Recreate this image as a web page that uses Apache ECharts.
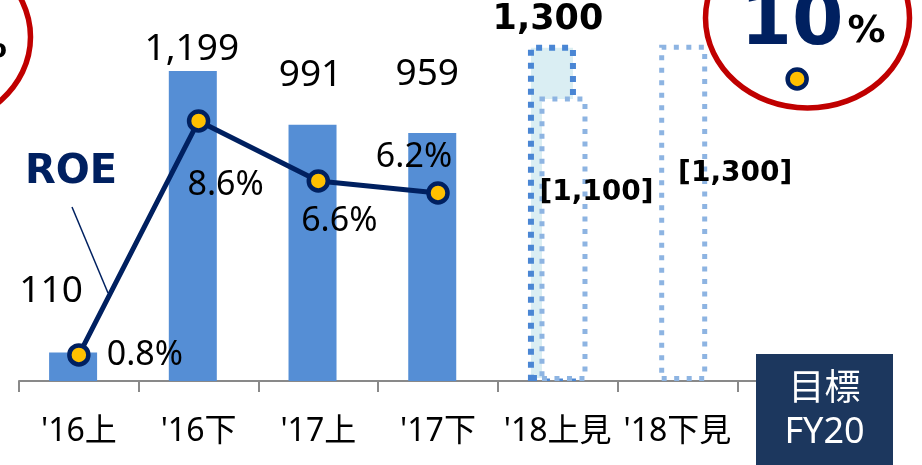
<!DOCTYPE html>
<html>
<head>
<meta charset="utf-8">
<script src="https://cdn.jsdelivr.net/npm/echarts@6/dist/echarts.min.js"></script>
<style>
  html, body { margin: 0; padding: 0; background: #fff; }
  #chart { width: 922px; height: 465px; }
</style>
</head>
<body>
<div id="chart"></div>
<script>
// Half-year periods plus the FY20 target column
const categories = ["'16上", "'16下", "'17上", "'17下", "'18上見", "'18下見", "FY20"];
// Profit (actuals, then the upper forecast for '18上見)
const profit = [110, 1199, 991, 959, 1300, null, null];
// Forecast figures shown in brackets
const forecast = [null, null, null, null, 1100, 1300, null];
// ROE in percent; the last entry is the FY20 target
const roe = [0.8, 8.6, 6.6, 6.2, null, null, 10];

const FONT = "'Noto Sans', 'Noto Sans CJK JP', sans-serif";
const BOLD_FONT = "'DejaVu Sans', 'Noto Sans CJK JP', sans-serif";
const NAVY = '#002060';
const BAR = '#558ed5';

// Label placement per category
const profitLabelOffset = [[-22, -38], [-1, 2], [-2, -26], [-5, -35], [-4, -2]];
const forecastLabelOffset = { 4: [33, 115], 5: [52, 148] };
const roeLabelOffset = [[66, 0], [27, 64], [21, 40], [-24, -36]];

const profitData = profit.map((v, i) => {
  if (v == null) return '-';
  const isForecast = i === 4;
  return {
    value: v,
    itemStyle: isForecast
      ? { color: '#daeef3', borderColor: '#4a86d4', borderWidth: 6, borderType: [6, 7] }
      : { color: BAR },
    label: {
      show: true,
      position: 'top',
      distance: 5,
      offset: profitLabelOffset[i],
      fontFamily: isForecast ? BOLD_FONT : FONT,
      fontSize: isForecast ? 35 : 37,
      fontWeight: isForecast ? 'bold' : 'normal',
      color: '#000',
      formatter: (p) => p.value.toLocaleString('en-US')
    }
  };
});

const forecastData = forecast.map((v, i) => {
  if (v == null) return '-';
  return {
    value: v,
    label: {
      show: true,
      position: 'top',
      distance: 5,
      offset: forecastLabelOffset[i],
      fontFamily: BOLD_FONT,
      fontSize: 28,
      fontWeight: 'bold',
      color: '#000',
      formatter: (p) => '[' + p.value.toLocaleString('en-US') + ']'
    }
  };
});

const roeData = roe.map((v, i) => {
  if (v == null) return '-';
  if (i === categories.length - 1) {
    return {
      value: v,
      label: {
        show: true,
        position: 'inside',
        offset: [16, -54],
        formatter: (p) => '{a|' + p.value + '}{b|%}',
        rich: {
          a: { fontFamily: BOLD_FONT, fontSize: 74, fontWeight: 'bold', color: NAVY, lineHeight: 74, verticalAlign: 'bottom' },
          b: { fontFamily: BOLD_FONT, fontSize: 38, fontWeight: 'bold', color: '#000', lineHeight: 38, verticalAlign: 'bottom', padding: [0, 0, 11, 4] }
        }
      }
    };
  }
  return {
    value: v,
    label: {
      show: true,
      position: 'inside',
      offset: roeLabelOffset[i],
      fontFamily: FONT,
      fontSize: 34,
      color: '#000',
      formatter: (p) => p.value.toFixed(1) + '%'
    }
  };
});

const chart = echarts.init(document.getElementById('chart'), null, { renderer: 'canvas' });

chart.setOption({
  animation: false,
  backgroundColor: '#fff',
  grid: { left: 19, right: 65, top: 19, bottom: 84, containLabel: false },
  xAxis: {
    type: 'category',
    data: categories,
    axisLine: { show: true, lineStyle: { color: '#898989', width: 2 } },
    axisTick: { show: true, interval: 0, length: 11, lineStyle: { color: '#898989', width: 2 } },
    axisLabel: {
      interval: 0,
      margin: 35,
      fontFamily: FONT,
      fontSize: 32,
      color: '#000',
      formatter: (v) => (v === 'FY20' ? '' : v)
    },
    splitLine: { show: false }
  },
  yAxis: [
    { type: 'value', min: 0, max: 1400, show: false, splitLine: { show: false } },
    { type: 'value', min: -0.07, max: 12, show: false, splitLine: { show: false } }
  ],
  series: [
    {
      name: 'profit',
      type: 'bar',
      barWidth: 48,
      barGap: '-76%',
      data: profitData
    },
    {
      name: 'forecast',
      type: 'bar',
      barWidth: 48,
      barGap: '-76%',
      itemStyle: { color: '#fff', borderColor: '#8db4e2', borderWidth: 5, borderType: [5, 7.5] },
      data: forecastData
    },
    {
      name: 'ROE',
      type: 'line',
      yAxisIndex: 1,
      connectNulls: false,
      symbol: 'circle',
      symbolSize: 19,
      lineStyle: { color: NAVY, width: 5 },
      itemStyle: { color: '#ffc000', borderColor: NAVY, borderWidth: 4.5 },
      data: roeData,
      z: 5
    }
  ],
  graphic: [
    // ROE legend text and its leader line
    {
      type: 'text', x: 25, y: 173, z: 50,
      style: { text: 'ROE', fontFamily: BOLD_FONT, fontSize: 40, fontWeight: 'bold', fill: NAVY, verticalAlign: 'middle' }
    },
    {
      type: 'line', z: 50,
      shape: { x1: 72, y1: 207, x2: 108, y2: 293 },
      style: { stroke: NAVY, lineWidth: 1.5 }
    },
    // FY20 target box
    {
      type: 'rect', z: 50,
      shape: { x: 756, y: 354, width: 137, height: 120 },
      style: { fill: '#1c375e' }
    },
    {
      type: 'text', z: 51, x: 824.5, y: 390,
      style: { text: '目標', fontFamily: FONT, fontSize: 36, fill: '#fff', align: 'center', verticalAlign: 'middle' }
    },
    {
      type: 'text', z: 51, x: 824.5, y: 433,
      style: { text: 'FY20', fontFamily: FONT, fontSize: 36, fill: '#fff', align: 'center', verticalAlign: 'middle' }
    },
    // Red rings
    {
      type: 'ellipse', z: 60,
      shape: { cx: 807.5, cy: 18, rx: 102, ry: 90 },
      style: { fill: 'none', stroke: '#c00000', lineWidth: 5.5 }
    },
    {
      type: 'ellipse', z: 60,
      shape: { cx: -71.5, cy: 37, rx: 102, ry: 90 },
      style: { fill: 'none', stroke: '#c00000', lineWidth: 5.5 }
    },
    {
      type: 'text', z: 61, x: 7, y: 47,
      style: { text: '%', fontFamily: BOLD_FONT, fontSize: 38, fontWeight: 'bold', fill: '#000', align: 'right', verticalAlign: 'middle' }
    }
  ]
});
</script>
</body>
</html>
